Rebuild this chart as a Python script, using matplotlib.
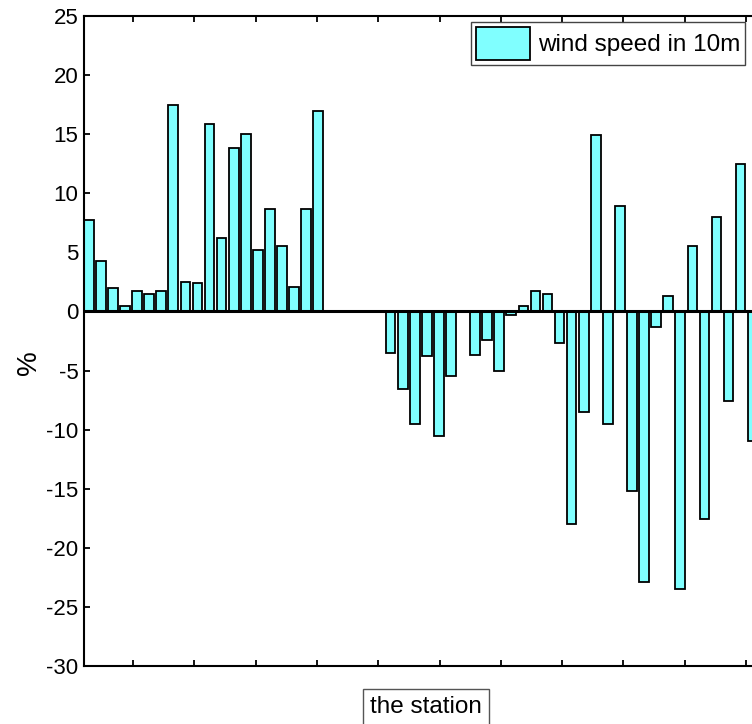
import numpy as np
import matplotlib.pyplot as plt

plt.rcParams['axes.unicode_minus'] = False

# station number and change of wind speed (%)
stations = np.arange(1, 57)
wind_10m = [7.7, 4.3, 2.0, 0.5, 1.7, 1.5, 1.7, 17.5, 2.5, 2.4,
            15.9, 6.2, 13.8, 15.0, 5.2, 8.7, 5.5, 2.1, 8.7, 17.0,
            0, 0, 0, 0, 0, -3.5, -6.6, -9.5, -3.8, -10.5,
            -5.5, 0, -3.7, -2.4, -5.0, -0.3, 0.5, 1.7, 1.5, -2.7,
            -18.0, -8.5, 14.9, -9.5, 8.9, -15.2, -22.9, -1.3, 1.3, -23.5,
            5.5, -17.6, 8.0, -7.6, 12.5, -11.0]
yticks = np.arange(-30, 26, 5)

fig = plt.figure(figsize=(7.52, 7.24), dpi=100)
# axes runs a bit past the right edge, like the cropped original
ax = fig.add_axes([0.1117, 0.0801, 0.8957, 0.8978])

ax.bar(stations, wind_10m, width=0.8, color='#80ffff', edgecolor='black',
       linewidth=1.3, label='wind speed in 10m', zorder=2)
ax.axhline(0, color='black', lw=2.2, zorder=3)

ax.set_xlim(0.6, len(stations) + 0.4)
ax.set_ylim(-30, 25)
ax.set_yticks(yticks)
ax.set_xticks(np.linspace(4.66, 55.45, 11))
ax.set_xticklabels([])

for s in ax.spines.values():
    s.set_linewidth(1.5)
ax.tick_params(direction='in', length=4, width=1.3, top=True, right=True, pad=4)
for lab in ax.get_yticklabels():
    lab.set_family('Liberation Sans')
    lab.set_fontsize(16)

ax.set_ylabel('%', fontsize=20, family='Liberation Sans')
ax.yaxis.set_label_coords(-0.062, 0.466)
ax.set_xlabel('the station', fontsize=17.5, family='Liberation Sans',
              bbox=dict(boxstyle='square,pad=0.3', fc='white', ec='#555555', lw=1))
ax.xaxis.set_label_coords(0.508, -0.046)

leg = ax.legend(loc='upper right', bbox_to_anchor=(745 / 752, 1 - 21.7 / 724),
                bbox_transform=fig.transFigure, borderaxespad=0, fancybox=False,
                framealpha=1, edgecolor='#444444', handlelength=2.25,
                handleheight=1.72, handletextpad=0.3, borderpad=0.2,
                prop={'family': 'Liberation Sans', 'size': 17.5})
leg.get_frame().set_linewidth(1)

fig.savefig('out.png', dpi=100)
